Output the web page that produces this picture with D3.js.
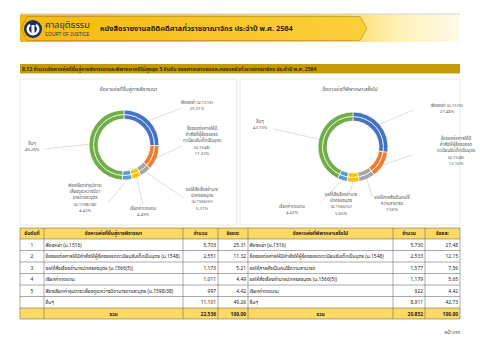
<!DOCTYPE html>
<html>
<head>
<meta charset="utf-8">
<script src="https://cdn.jsdelivr.net/npm/d3@7"></script>
<style>
  body { margin: 0; background: #fff; }
  svg { display: block; font-family: "Noto Sans Thai", "Noto Sans", "DejaVu Sans", sans-serif; }
</style>
</head>
<body>
<svg id="page" width="480" height="339"></svg>
<script>
// ---- data ----
const bannerTitle = "หนังสือรายงานสถิติคดีศาลทั่วราชอาณาจักร ประจำปี พ.ศ. 2564";
const sectionTitle = "8.12  จำนวนข้อหาแห่งที่ขึ้นสู่การพิจารณาและพิพากษาคดีไม่สูงสุด 5 อันดับ ของศาลเยาวชนและครอบครัวทั่วราชอาณาจักร ประจำปี พ.ศ. 2564";
const leftTitle = "ข้อหาแห่งที่ขึ้นสู่การพิจารณา";
const rightTitle = "ข้อหาแห่งที่พิพากษาเสร็จไป";

const leftCategories = [
  "ฟ้องหย่า (ม.1516)",
  "ร้องขอต่อศาลให้มีคำสั่งให้ผู้ร้องขอจดทะเบียนรับเด็กเป็นบุตร (ม.1548)",
  "ขอให้สั่งเรื่องอำนาจปกครองบุตร (ม.1566(5))",
  "เรียกค่าทดแทน",
  "ฟ้องเรียกค่าอุปการะเลี้ยงดูระหว่างบิดามารดาและบุตร (ม.1598/38)",
  "อื่นๆ"
];
const leftCounts = [5703, 2551, 1173, 1011, 997, 11101];
const leftPercents = [25.31, 11.32, 5.21, 4.49, 4.42, 49.26];
const leftTotal = 22536;
const leftTotalPercent = 100.00;
// wrapped label text as printed beside the left doughnut
const leftLabelLines = [
  ["ฟ้องหย่า (ม.1516)"],
  ["ร้องขอต่อศาลให้มี", "คำสั่งให้ผู้ร้องขอจด", "ทะเบียนรับเด็กเป็นบุตร", "(ม.1548)"],
  ["ขอให้สั่งเรื่องอำนาจ", "ปกครองบุตร", "(ม.1566(5))"],
  ["เรียกค่าทดแทน"],
  ["ฟ้องเรียกค่าอุปการะ", "เลี้ยงดูระหว่างบิดา", "มารดาและบุตร", "(ม.1598/38)"],
  ["อื่นๆ"]
];

const rightCategories = [
  "ฟ้องหย่า (ม.1516)",
  "ร้องขอต่อศาลให้มีคำสั่งให้ผู้ร้องขอจดทะเบียนรับเด็กเป็นบุตร (ม.1548)",
  "ขอให้ศาลสั่งเป็นคนไร้ความสามารถ",
  "ขอให้สั่งเรื่องอำนาจปกครองบุตร (ม.1566(5))",
  "เรียกค่าทดแทน",
  "อื่นๆ"
];
const rightCounts = [5730, 2533, 1577, 1179, 922, 8911];
const rightPercents = [27.48, 12.15, 7.56, 5.65, 4.42, 42.73];
const rightTotal = 20852;
const rightTotalPercent = 100.00;
const rightLabelLines = [
  ["ฟ้องหย่า (ม.1516)"],
  ["ร้องขอต่อศาลให้มี", "คำสั่งให้ผู้ร้องขอจด", "ทะเบียนรับเด็กเป็นบุตร", "(ม.1548)"],
  ["ขอให้ศาลสั่งเป็นคนไร้", "ความสามารถ"],
  ["ขอให้สั่งเรื่องอำนาจ", "ปกครองบุตร", "(ม.1566(5))"],
  ["เรียกค่าทดแทน"],
  ["อื่นๆ"]
];

const tableHeaders = ["อันดับที่", leftTitle, "จำนวน", "ร้อยละ", rightTitle, "จำนวน", "ร้อยละ"];
const ranks = ["1", "2", "3", "4", "5", ""];
const totalLabel = "รวม";
const pageLabel = "หน้า 599";

// ---- styles / layout ----
const sliceColors = ["#4472c4", "#ed7d31", "#a5a5a5", "#ffc000", "#5b9bd5", "#70ad47"];
const fmtCount = d3.format(",");
const fmtPct = d3.format(".2f");

const svg = d3.select("#page");
const defs = svg.append("defs");

// ---- banner ----
const bg = defs.append("linearGradient").attr("id", "bannerBg");
bg.append("stop").attr("offset", "0%").attr("stop-color", "#f3b712");
bg.append("stop").attr("offset", "70%").attr("stop-color", "#fbd44a");
bg.append("stop").attr("offset", "86%").attr("stop-color", "#fff1b8");
bg.append("stop").attr("offset", "100%").attr("stop-color", "#fffbe8");

const chev = defs.append("linearGradient").attr("id", "chevron");
chev.append("stop").attr("offset", "0%").attr("stop-color", "#f4ba10");
chev.append("stop").attr("offset", "100%").attr("stop-color", "#fbcf3a");

const banner = svg.append("g");
banner.append("rect")
  .attr("x", 20).attr("y", 14).attr("width", 440).attr("height", 28)
  .attr("fill", "url(#bannerBg)");
banner.append("line")
  .attr("x1", 20).attr("x2", 460).attr("y1", 14).attr("y2", 14)
  .attr("stroke", "#c9d3e6").attr("stroke-width", 1);
banner.append("path")
  .attr("d", "M27,16.5 L360,16.5 L367,28.5 L360,40.5 L27,40.5 L21,28.5 Z")
  .attr("fill", "url(#chevron)")
  .attr("stroke", "#9c7a10").attr("stroke-width", 0.5);

// court logo
const logo = banner.append("g").attr("transform", "translate(33,29)");
logo.append("circle").attr("r", 9).attr("fill", "#1e2f62");
logo.append("path")
  .attr("d", d3.arc()({innerRadius: 4, outerRadius: 6.5, startAngle: 0.6, endAngle: Math.PI * 2 - 0.6}))
  .attr("fill", "#fff");
logo.append("rect").attr("x", -1.5).attr("y", -4).attr("width", 3).attr("height", 8).attr("fill", "#fff");

banner.append("text")
  .attr("x", 45).attr("y", 28)
  .attr("font-size", 9).attr("fill", "#1e2f62")
  .text("ศาลยุติธรรม");
banner.append("text")
  .attr("x", 45).attr("y", 35.5)
  .attr("font-size", 4.6).attr("fill", "#1e2f62").attr("font-family", "Liberation Sans, sans-serif")
  .text("COURT OF JUSTICE");
banner.append("text")
  .attr("x", 100).attr("y", 31)
  .attr("font-size", 7.4).attr("font-weight", "bold").attr("fill", "#2b2410")
  .text(bannerTitle);

// ---- section bar ----
svg.append("rect")
  .attr("x", 20).attr("y", 64).attr("width", 440).attr("height", 9.5)
  .attr("fill", "#c49a06");
svg.append("text")
  .attr("x", 22).attr("y", 70.6)
  .attr("font-size", 5.1).attr("font-weight", "bold").attr("fill", "#3a2c00")
  .text(sectionTitle);

// ---- doughnut panels ----
const leftLabelPos = [
  {tx: 73, ty: -41, lx: 58, ly: -37},
  {tx: 78, ty: -15, lx: 58, ly: 1},
  {tx: 78, ty: 46, lx: 60, ly: 53},
  {tx: 19, ty: 65, lx: 19, ly: 60},
  {tx: -39, ty: 42, lx: -16, ly: 58},
  {tx: -92, ty: 0, lx: -80, ly: 4}
];
const rightLabelPos = [
  {tx: 94, ty: -40, lx: 60, ly: -37},
  {tx: 103, ty: -7, lx: 59, ly: 8},
  {tx: 39, ty: 52, lx: 19, ly: 50},
  {tx: -12, ty: 49, lx: -3, ly: 45},
  {tx: -61, ty: 61, lx: -33, ly: 56},
  {tx: -93, ty: -24, lx: -80, ly: -18}
];

function drawPanel(opts) {
  const g = svg.append("g");
  g.append("rect")
    .attr("x", opts.x).attr("y", 79).attr("width", opts.w).attr("height", 146)
    .attr("fill", "#fff").attr("stroke", "#d9d9d9").attr("stroke-width", 0.6);
  g.append("text")
    .attr("x", opts.x + opts.w / 2).attr("y", 91)
    .attr("text-anchor", "middle").attr("font-size", 5.2).attr("fill", "#595959")
    .text(opts.title);

  const c = g.append("g").attr("transform", `translate(${opts.cx},${opts.cy})`);
  const pie = d3.pie().sort(null).value(d => d);
  const arcs = pie(opts.counts);
  const rInner = 26, rMid = 30.5, rOuter = 35;
  const innerArc = d3.arc().innerRadius(rInner).outerRadius(rMid);
  const outerArc = d3.arc().innerRadius(rMid).outerRadius(rOuter);

  [innerArc, outerArc].forEach(a => {
    c.append("g").selectAll("path")
      .data(arcs)
      .join("path")
        .attr("d", a)
        .attr("fill", (d, i) => sliceColors[i])
        .attr("stroke", "#fff").attr("stroke-width", 0.7);
  });

  // leader lines
  c.append("g").selectAll("line")
    .data(arcs)
    .join("line")
      .attr("x1", d => Math.sin((d.startAngle + d.endAngle) / 2) * rOuter)
      .attr("y1", d => -Math.cos((d.startAngle + d.endAngle) / 2) * rOuter)
      .attr("x2", (d, i) => opts.pos[i].lx)
      .attr("y2", (d, i) => opts.pos[i].ly)
      .attr("stroke", "#bfbfbf").attr("stroke-width", 0.5);

  // labels
  const lh = 6.2;
  c.append("g").selectAll("text")
    .data(arcs)
    .join("text")
      .attr("text-anchor", "middle")
      .attr("font-size", 4.3).attr("fill", "#595959")
      .each(function(d, i) {
        const lines = opts.lines[i].concat([fmtPct(opts.percents[i]) + "%"]);
        d3.select(this).selectAll("tspan")
          .data(lines)
          .join("tspan")
            .attr("x", opts.pos[i].tx)
            .attr("y", (t, j) => opts.pos[i].ty + j * lh)
            .text(t => t);
      });
}

drawPanel({x: 20, w: 217, cx: 124, cy: 145, title: leftTitle, counts: leftCounts,
           percents: leftPercents, lines: leftLabelLines, pos: leftLabelPos});
drawPanel({x: 240, w: 220, cx: 353, cy: 147, title: rightTitle, counts: rightCounts,
           percents: rightPercents, lines: rightLabelLines, pos: rightLabelPos});

// ---- table ----
const colX = [20, 44, 183, 218, 248, 393, 425, 460];
const rowY = [228, 239, 250.5, 262, 273.5, 285, 296.5, 308, 319];
const tbl = svg.append("g").attr("font-size", 4.9).attr("fill", "#222");

// header + total row backgrounds
[0, 7].forEach(r => {
  tbl.append("rect")
    .attr("x", colX[0]).attr("y", rowY[r])
    .attr("width", colX[7] - colX[0]).attr("height", rowY[r + 1] - rowY[r])
    .attr("fill", "#ffd966");
});

// clip paths for the long topic columns
[[1, 2], [4, 5]].forEach(([a, b], k) => {
  defs.append("clipPath").attr("id", "col" + k)
    .append("rect").attr("x", colX[a]).attr("y", rowY[0])
    .attr("width", colX[b] - colX[a] - 0.5).attr("height", rowY[8] - rowY[0]);
});

// header text
tableHeaders.forEach((h, i) => {
  tbl.append("text")
    .attr("x", (colX[i] + colX[i + 1]) / 2).attr("y", rowY[0] + 7.4)
    .attr("text-anchor", "middle").attr("font-weight", "bold")
    .text(h);
});

// body rows
const leftCol = tbl.append("g").attr("clip-path", "url(#col0)");
const rightCol = tbl.append("g").attr("clip-path", "url(#col1)");
leftCategories.forEach((cat, i) => {
  const y = rowY[i + 1] + 7.7;
  tbl.append("text").attr("x", (colX[0] + colX[1]) / 2).attr("y", y)
    .attr("text-anchor", "middle").text(ranks[i]);
  leftCol.append("text").attr("x", colX[1] + 1.5).attr("y", y).text(cat);
  tbl.append("text").attr("x", colX[3] - 2).attr("y", y)
    .attr("text-anchor", "end").text(fmtCount(leftCounts[i]));
  tbl.append("text").attr("x", colX[4] - 2).attr("y", y)
    .attr("text-anchor", "end").text(fmtPct(leftPercents[i]));
  rightCol.append("text").attr("x", colX[4] + 1.5).attr("y", y).text(rightCategories[i]);
  tbl.append("text").attr("x", colX[6] - 2).attr("y", y)
    .attr("text-anchor", "end").text(fmtCount(rightCounts[i]));
  tbl.append("text").attr("x", colX[7] - 2).attr("y", y)
    .attr("text-anchor", "end").text(fmtPct(rightPercents[i]));
});

// total row
const ty = rowY[7] + 7.7;
tbl.append("text").attr("x", (colX[1] + colX[2]) / 2).attr("y", ty).attr("text-anchor", "middle").attr("font-weight", "bold").text(totalLabel);
tbl.append("text").attr("x", colX[3] - 2).attr("y", ty).attr("text-anchor", "end").attr("font-weight", "bold").text(fmtCount(leftTotal));
tbl.append("text").attr("x", colX[4] - 2).attr("y", ty).attr("text-anchor", "end").attr("font-weight", "bold").text(fmtPct(leftTotalPercent));
tbl.append("text").attr("x", (colX[4] + colX[5]) / 2).attr("y", ty).attr("text-anchor", "middle").attr("font-weight", "bold").text(totalLabel);
tbl.append("text").attr("x", colX[6] - 2).attr("y", ty).attr("text-anchor", "end").attr("font-weight", "bold").text(fmtCount(rightTotal));
tbl.append("text").attr("x", colX[7] - 2).attr("y", ty).attr("text-anchor", "end").attr("font-weight", "bold").text(fmtPct(rightTotalPercent));

// grid lines
const grid = svg.append("g").attr("stroke", "#555").attr("stroke-width", 0.5).attr("fill", "none");
rowY.forEach(y => {
  grid.append("line").attr("x1", colX[0]).attr("x2", colX[7]).attr("y1", y).attr("y2", y);
});
colX.forEach(x => {
  grid.append("line").attr("x1", x).attr("x2", x).attr("y1", rowY[0]).attr("y2", rowY[8]);
});

// page number
svg.append("text")
  .attr("x", 460).attr("y", 334)
  .attr("text-anchor", "end").attr("font-size", 4.3).attr("fill", "#333")
  .text(pageLabel);
</script>
</body>
</html>
